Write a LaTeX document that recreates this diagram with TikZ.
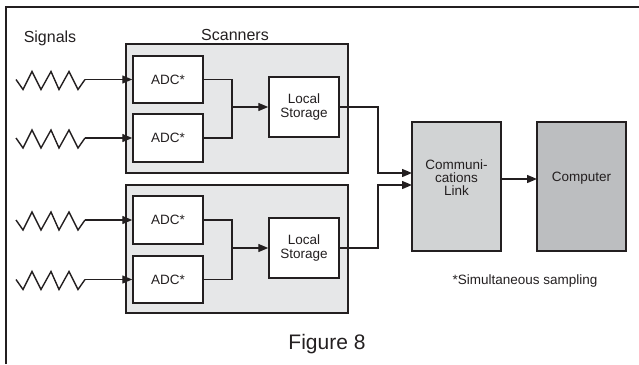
\documentclass[tikz,border=0pt]{standalone}
\usepackage{fontspec}
\setmainfont{Liberation Sans}
\usetikzlibrary{arrows.meta}
\definecolor{scanfill}{HTML}{E6E7E8}
\definecolor{commfill}{HTML}{D1D3D4}
\definecolor{compfill}{HTML}{BCBEC0}
\definecolor{ink}{HTML}{231F20}
\tikzset{
  box/.style={draw=ink, line width=1.5pt, fill=white, inner sep=0pt, align=center,
    font=\fontsize{13.5}{13.5}\selectfont, text=ink},
  scanbox/.style={draw=ink, line width=1.5pt, fill=scanfill, inner sep=0pt},
  wire/.style={draw=ink, line width=1.4pt},
  arr/.style={wire, -{Triangle[length=10pt,width=8pt]}},
  label/.style={inner sep=0pt, text=ink},
}
\begin{document}
\begin{tikzpicture}[x=1pt,y=-1pt]
\useasboundingbox (0,0) rectangle (639,364);
\draw[ink, line width=2pt] (6,364) -- (6,7) -- (639,7);

\node[label, font=\fontsize{16}{16}\selectfont] (signals) at (50,38) {Signals};
\node[label, font=\fontsize{16}{16}\selectfont] (scanners) at (235,35) {Scanners};

\node[scanbox, minimum width=222pt, minimum height=129pt] (scan1) at (237,108.5) {};
\node[scanbox, minimum width=222pt, minimum height=128pt] (scan2) at (237,249) {};

\node[box, minimum width=70pt, minimum height=47pt] (adc1) at (168,79.5) {ADC*};
\node[box, minimum width=70pt, minimum height=48pt] (adc2) at (168,138) {ADC*};
\node[box, minimum width=70pt, minimum height=60pt] (st1) at (304,107) {Local\\Storage};
\node[box, minimum width=70pt, minimum height=48pt] (adc3) at (168,220) {ADC*};
\node[box, minimum width=70pt, minimum height=47pt] (adc4) at (168,279.5) {ADC*};
\node[box, minimum width=70pt, minimum height=60pt] (st2) at (304,248) {Local\\Storage};

\node[box, fill=commfill, minimum width=89pt, minimum height=129pt] (comm) at (456.5,186.5) {};
\node[label, align=center, font=\fontsize{13.5}{13}\selectfont] (commtext) at (456.5,178) {Communi-\\cations\\Link};
\node[box, fill=compfill, minimum width=89pt, minimum height=129pt] (comp) at (581.5,186.5) {};
\node[label, font=\fontsize{13.5}{13.5}\selectfont] (comptext) at (581.5,178) {Computer};

% signals
\foreach \n/\yy in {1/79.5, 2/138, 3/220, 4/279.5}{
  \coordinate (s\n) at (16,\yy);
  \draw[wire, line join=miter] (s\n) -- ++(7,10) -- ++(9,-18) -- ++(9,18) -- ++(10,-18)
     -- ++(8,18) -- ++(10,-18) -- ++(9,18) -- ++(7,-10) coordinate (e\n);
  \draw[arr] (e\n) -- (adc\n.west);
}

% ADC merge
\coordinate (j1) at (232,107);
\coordinate (j2) at (232,248);
\draw[wire] (adc1.east) -| (j1) |- (adc2.east);
\draw[arr] (j1) -- (st1.west);
\draw[wire] (adc3.east) -| (j2) |- (adc4.east);
\draw[arr] (j2) -- (st2.west);

% to comm link
\coordinate (in1) at (412,173);
\coordinate (in2) at (412,185);
\coordinate (b1) at (378,107);
\coordinate (b2) at (378,248);
\draw[arr] (st1.east) -- (b1) |- (in1);
\draw[arr] (st2.east) -- (b2) |- (in2);

\coordinate (o1) at (501,179);
\coordinate (o2) at (537,179);
\draw[arr] (o1) -- (o2);

\node[label, font=\fontsize{13.5}{13.5}\selectfont] (note) at (525,281) {*Simultaneous sampling};
\node[label, font=\fontsize{21}{21}\selectfont] (fig) at (327,344) {Figure 8};
\end{tikzpicture}
\end{document}
